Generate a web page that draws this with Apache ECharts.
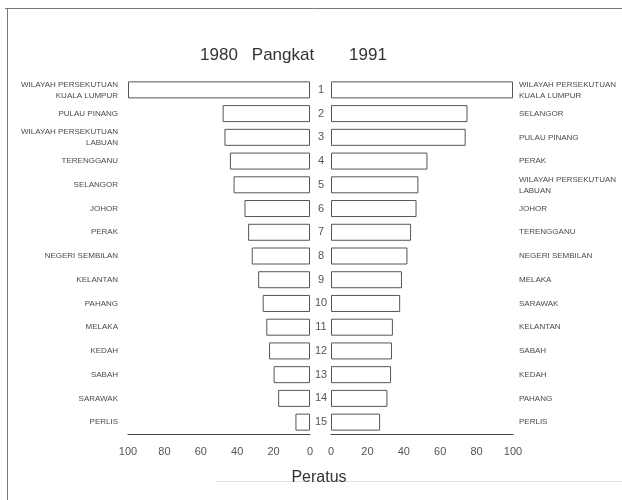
<!DOCTYPE html>
<html>
<head>
<meta charset="utf-8">
<script src="https://cdn.jsdelivr.net/npm/echarts@6/dist/echarts.min.js"></script>
<style>
  html, body { margin: 0; padding: 0; background: #fff; }
  #chart { width: 622px; height: 500px; }
</style>
</head>
<body>
<div id="chart"></div>
<script>
// kedudukan negeri, 1980 vs 1991 (peratus)
const ranks = ['1','2','3','4','5','6','7','8','9','10','11','12','13','14','15']
const names1980 = [
  'WILAYAH PERSEKUTUAN\nKUALA LUMPUR', 'PULAU PINANG', 'WILAYAH PERSEKUTUAN\nLABUAN',
  'TERENGGANU', 'SELANGOR', 'JOHOR', 'PERAK', 'NEGERI SEMBILAN', 'KELANTAN',
  'PAHANG', 'MELAKA', 'KEDAH', 'SABAH', 'SARAWAK', 'PERLIS'
]
const values1980 = [100, 48, 47, 44, 42, 36, 34, 32, 28.5, 26, 24, 22.5, 20, 17.5, 8]
const names1991 = [
  'WILAYAH PERSEKUTUAN\nKUALA LUMPUR', 'SELANGOR', 'PULAU PINANG', 'PERAK',
  'WILAYAH PERSEKUTUAN\nLABUAN', 'JOHOR', 'TERENGGANU', 'NEGERI SEMBILAN', 'MELAKA',
  'SARAWAK', 'KELANTAN', 'SABAH', 'KEDAH', 'PAHANG', 'PERLIS'
]
const values1991 = [100, 75, 74, 53, 48, 47, 44, 42, 39, 38, 34, 33.5, 33, 31, 27]
const xTicks = [0, 20, 40, 60, 80, 100]

const FONT = 'Liberation Sans'
const chart = echarts.init(document.getElementById('chart'), null, { renderer: 'canvas' })

const nameLabel = {
  fontFamily: FONT, fontSize: 8, color: '#4a4a4a', lineHeight: 11
}
const xAxisCommon = {
  type: 'value', min: 0, max: 100, interval: 20,
  axisLine: { show: true, lineStyle: { color: '#444', width: 1 } },
  axisTick: { show: false },
  splitLine: { show: false },
  axisLabel: {
    fontFamily: FONT, fontSize: 11, color: '#555', margin: 12,
    formatter: v => xTicks.includes(v) ? String(v) : ''
  }
}
const barStyle = { color: '#fff', borderColor: '#555', borderWidth: 1 }

const option = {
  backgroundColor: '#fff',
  animation: false,
  grid: [
    { left: 128, top: 78, width: 182, height: 356 },
    { left: 331, top: 78, width: 182, height: 356 }
  ],
  xAxis: [
    Object.assign({ gridIndex: 0, inverse: true }, xAxisCommon),
    Object.assign({ gridIndex: 1 }, xAxisCommon)
  ],
  yAxis: [
    {
      type: 'category', gridIndex: 0, inverse: true, position: 'left',
      data: names1980,
      axisLine: { show: false }, axisTick: { show: false },
      axisLabel: Object.assign({ margin: 10, align: 'right' }, nameLabel)
    },
    {
      type: 'category', gridIndex: 1, inverse: true, position: 'left',
      data: ranks,
      axisLine: { show: false }, axisTick: { show: false },
      axisLabel: { margin: 10, align: 'center', fontFamily: FONT, fontSize: 11, color: '#555' }
    },
    {
      type: 'category', gridIndex: 1, inverse: true, position: 'right',
      data: names1991,
      axisLine: { show: false }, axisTick: { show: false },
      axisLabel: Object.assign({ margin: 6, align: 'left' }, nameLabel)
    }
  ],
  series: [
    {
      type: 'bar', xAxisIndex: 0, yAxisIndex: 0, data: values1980,
      barWidth: 17, itemStyle: barStyle
    },
    {
      type: 'bar', xAxisIndex: 1, yAxisIndex: 1, data: values1991,
      barWidth: 17, itemStyle: barStyle
    }
  ],
  graphic: [
    // bingkai
    { type: 'line', shape: { x1: 5, y1: 8.5, x2: 622, y2: 8.5 }, style: { stroke: '#777', lineWidth: 1 } },
    { type: 'line', shape: { x1: 7.5, y1: 8, x2: 7.5, y2: 500 }, style: { stroke: '#777', lineWidth: 1 } },
    { type: 'line', shape: { x1: 215, y1: 481.5, x2: 622, y2: 481.5 }, style: { stroke: '#e4e4e4', lineWidth: 1 } },
    // tajuk
    { type: 'text', x: 219, y: 55, style: { text: '1980', textAlign: 'center', textVerticalAlign: 'middle', font: '17px "Liberation Sans"', fill: '#333' } },
    { type: 'text', x: 283, y: 55, style: { text: 'Pangkat', textAlign: 'center', textVerticalAlign: 'middle', font: '17px "Liberation Sans"', fill: '#333' } },
    { type: 'text', x: 368, y: 55, style: { text: '1991', textAlign: 'center', textVerticalAlign: 'middle', font: '17px "Liberation Sans"', fill: '#333' } },
    { type: 'text', x: 319, y: 478, style: { text: 'Peratus', textAlign: 'center', textVerticalAlign: 'middle', font: '16px "Liberation Sans"', fill: '#333' } }
  ]
}
chart.setOption(option)
</script>
</body>
</html>
